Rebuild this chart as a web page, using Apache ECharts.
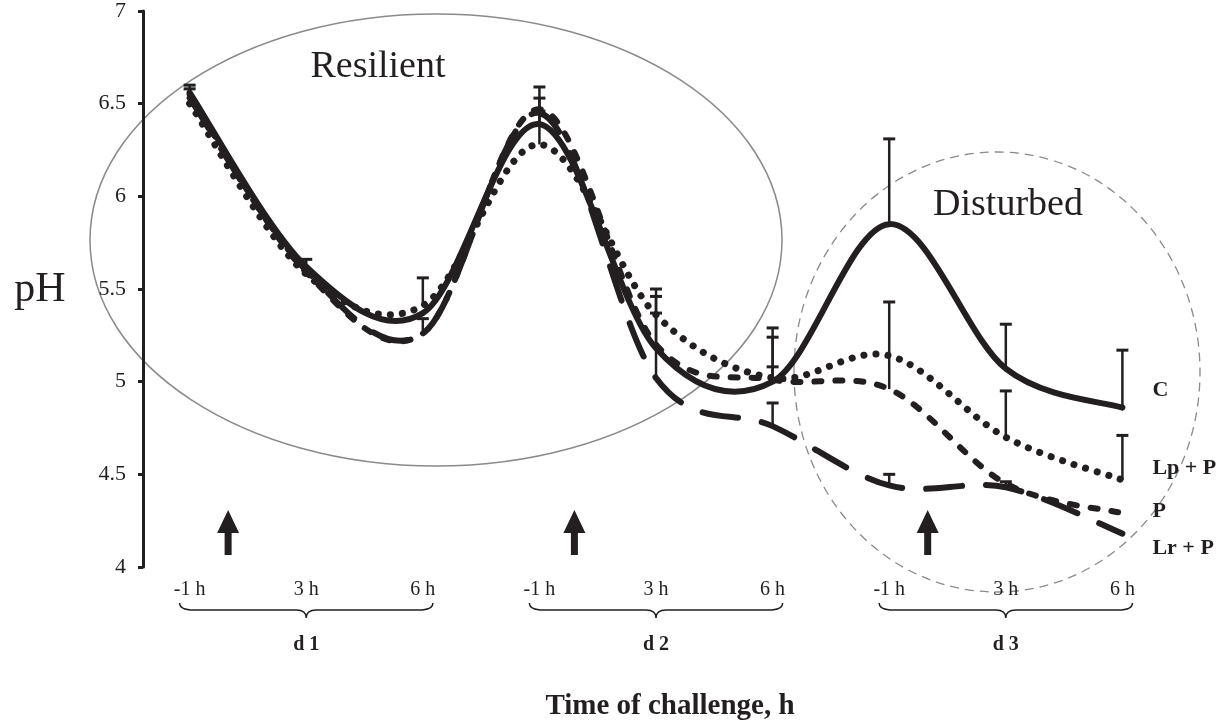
<!DOCTYPE html>
<html><head><meta charset="utf-8">
<script src="https://cdn.jsdelivr.net/npm/echarts@6/dist/echarts.min.js"></script>
<style>html,body{margin:0;padding:0;background:#fff}#c{width:1229px;height:728px}</style>
</head><body><div id="c"></div>
<script>
// ---- data ----
const days = ['d 1', 'd 2', 'd 3'];
const hours = ['-1 h', '3 h', '6 h'];
const yTicks = [4, 4.5, 5, 5.5, 6, 6.5, 7];
const seriesNames = ['C', 'Lp + P', 'P', 'Lr + P'];
const C   = [6.56, 5.62, 5.37, 6.39, 5.18, 5.00, 5.85, 5.07, 4.86];
const LpP = [6.50, 5.58, 5.41, 6.28, 5.36, 5.02, 5.14, 4.70, 4.47];
const P   = [6.55, 5.59, 5.26, 6.47, 5.20, 5.01, 4.96, 4.45, 4.29];
const LrP = [6.53, 5.60, 5.26, 6.45, 5.02, 4.76, 4.44, 4.43, 4.18];
// upper end of error bars (mean + SD), null = none drawn
const errC   = [6.60, 5.66, null, 6.53, 5.37, 5.29, 6.31, 5.31, 5.17];
const errLpP = [null, null, 5.56, 6.46, 5.46, 5.24, null, 4.95, 4.71];
const errP   = [6.58, null, 5.34, 6.59, null, 5.08, 5.43, null, null];
const errLrP = [null, null, null, null, 5.50, 4.885, 4.50, 4.46, null];
const challengeAt = [0.33, 3.3, 6.33];

const INK = '#231f20';
const SERIF = '"Liberation Serif", "Times New Roman", serif';

const chart = echarts.init(document.getElementById('c'), null, {renderer: 'canvas'});

const values = [C, LpP, P, LrP];
const errs = [errC, errLpP, errP, errLrP];
const styles = [
  {width: 6, dash: null},
  {width: 7, dash: [0.1, 12]},
  {width: 6, dash: [7, 14]},
  {width: 6, dash: [36, 24]}
];
const labelDy = [-17, -12, -2, 15];

// smoothed curve (Catmull-Rom / Bezier, as in spreadsheet "smoothed line") through the points
function curveSeries(arr, s) {
  return {
    type: 'custom',
    name: seriesNames[s],
    data: arr.map((v, i) => [i, v]),
    encode: {x: 0, y: 1},
    clip: false,
    z: 5,
    animation: false,
    renderItem(params, api) {
      if (params.dataIndex !== 0) return null;
      const pts = arr.map((v, i) => api.coord([i, v]));
      let d = `M${pts[0][0]},${pts[0][1]}`;
      for (let i = 0; i < pts.length - 1; i++) {
        const p0 = pts[Math.max(i - 1, 0)], p1 = pts[i], p2 = pts[i + 1], p3 = pts[Math.min(i + 2, pts.length - 1)];
        const c1 = [p1[0] + (p2[0] - p0[0]) / 6, p1[1] + (p2[1] - p0[1]) / 6];
        const c2 = [p2[0] - (p3[0] - p1[0]) / 6, p2[1] - (p3[1] - p1[1]) / 6];
        d += ` C${c1[0]},${c1[1]} ${c2[0]},${c2[1]} ${p2[0]},${p2[1]}`;
      }
      const last = pts[pts.length - 1];
      const st = styles[s];
      const style = {fill: 'none', stroke: INK, lineWidth: st.width, lineCap: 'round', lineJoin: 'round'};
      if (st.dash) style.lineDash = st.dash;
      return {type: 'group', children: [
        {type: 'path', shape: {pathData: d}, style},
        {type: 'text', style: {text: seriesNames[s], x: last[0] + 30, y: last[1] + labelDy[s],
          align: 'left', verticalAlign: 'middle', fontFamily: SERIF, fontWeight: 'bold', fontSize: 22, fill: INK}}
      ]};
    }
  };
}
const lineSeries = values.map((arr, s) => curveSeries(arr, s));

const errData = [];
errs.forEach((arr, s) => arr.forEach((t, i) => {
  if (t != null) errData.push([i, values[s][i], t]);
}));

const errSeries = {
  type: 'custom',
  data: errData,
  encode: {x: 0, y: 1},
  z: 4,
  animation: false,
  renderItem(params, api) {
    const x = api.value(0), y = api.value(1), t = api.value(2);
    const p = api.coord([x, y]), q = api.coord([x, t]);
    return {type: 'group', children: [
      {type: 'line', shape: {x1: p[0], y1: p[1], x2: q[0], y2: q[1]}, style: {stroke: INK, lineWidth: 2.5}},
      {type: 'line', shape: {x1: q[0] - 6, y1: q[1], x2: q[0] + 6, y2: q[1]}, style: {stroke: INK, lineWidth: 3}}
    ]};
  }
};

const arrowSeries = {
  type: 'custom',
  data: challengeAt.map(v => [v, 4]),
  encode: {x: 0, y: 1},
  z: 4,
  clip: false,
  animation: false,
  renderItem(params, api) {
    const p = api.coord([api.value(0), api.value(1)]);
    const x = p[0], b = p[1];
    return {type: 'polygon', shape: {points: [
      [x - 3.5, b - 12], [x - 3.5, b - 34], [x - 11, b - 34], [x, b - 57],
      [x + 11, b - 34], [x + 3.5, b - 34], [x + 3.5, b - 12]
    ]}, style: {fill: INK}};
  }
};

const axisGroupSeries = {
  type: 'custom',
  data: days.map((d, i) => [i * 3 + 1, 4, i]),
  encode: {x: 0, y: 1},
  clip: false,
  z: 4,
  animation: false,
  renderItem(params, api) {
    const di = api.value(2);
    const pts = [0, 1, 2].map(k => api.coord([di * 3 + k, 4]));
    const base = pts[0][1];
    const children = [];
    pts.forEach((p, k) => children.push({
      type: 'text',
      style: {text: hours[k], x: p[0], y: base + 23, align: 'center', verticalAlign: 'middle',
        fontFamily: SERIF, fontSize: 20, fill: INK}
    }));
    const L = pts[0][0] - 10, R = pts[2][0] + 10, T = pts[1][0];
    const top = base + 36, mid = base + 43, tip = base + 51;
    const d = `M${L},${top} Q${L},${mid} ${L + 14},${mid} L${T - 10},${mid} Q${T},${mid} ${T},${tip} ` +
              `Q${T},${mid} ${T + 10},${mid} L${R - 14},${mid} Q${R},${mid} ${R},${top}`;
    children.push({type: 'path', shape: {pathData: d}, style: {fill: 'none', stroke: INK, lineWidth: 1.5}});
    children.push({
      type: 'text',
      style: {text: days[di], x: T, y: base + 78, align: 'center', verticalAlign: 'middle',
        fontFamily: SERIF, fontWeight: 'bold', fontSize: 20, fill: INK}
    });
    return {type: 'group', children};
  }
};

const option = {
  backgroundColor: '#fff',
  animation: false,
  grid: {left: 143, right: 48.3, top: 11, bottom: 161, containLabel: false},
  xAxis: {
    type: 'value', min: -0.4, max: 8.5,
    axisLine: {show: false}, axisTick: {show: false}, axisLabel: {show: false}, splitLine: {show: false}
  },
  yAxis: {
    type: 'value', min: yTicks[0], max: yTicks[yTicks.length - 1], interval: 0.5,
    axisLine: {show: true, onZero: false, lineStyle: {color: INK, width: 3}},
    axisTick: {show: true, inside: false, length: 5, lineStyle: {color: INK, width: 3}},
    axisLabel: {margin: 17, fontFamily: SERIF, fontSize: 22, color: INK},
    splitLine: {show: false}
  },
  graphic: [
    {type: 'ellipse', z: 0, shape: {cx: 436, cy: 240, rx: 346, ry: 226},
      style: {fill: 'none', stroke: '#8a8a8a', lineWidth: 1.5}},
    {type: 'ellipse', z: 0, shape: {cx: 997, cy: 372, rx: 203, ry: 220},
      style: {fill: 'none', stroke: '#8a8a8a', lineWidth: 1.3, lineDash: [9, 6]}},
    {type: 'text', x: 378, y: 67, style: {text: 'Resilient', fontFamily: SERIF, fontSize: 38, fill: INK,
      align: 'center', verticalAlign: 'middle', textAlign: 'center', textVerticalAlign: 'middle'}},
    {type: 'text', x: 1008, y: 205, style: {text: 'Disturbed', fontFamily: SERIF, fontSize: 38, fill: INK,
      align: 'center', verticalAlign: 'middle', textAlign: 'center', textVerticalAlign: 'middle'}},
    {type: 'text', x: 40, y: 290, style: {text: 'pH', fontFamily: SERIF, fontSize: 42, fill: INK,
      align: 'center', verticalAlign: 'middle', textAlign: 'center', textVerticalAlign: 'middle'}},
    {type: 'text', x: 670, y: 707, style: {text: 'Time of challenge, h', fontFamily: SERIF, fontWeight: 'bold',
      fontSize: 29, fill: INK, align: 'center', verticalAlign: 'middle', textAlign: 'center', textVerticalAlign: 'middle'}}
  ],
  series: [...lineSeries, errSeries, arrowSeries, axisGroupSeries]
};
chart.setOption(option);
</script></body></html>
